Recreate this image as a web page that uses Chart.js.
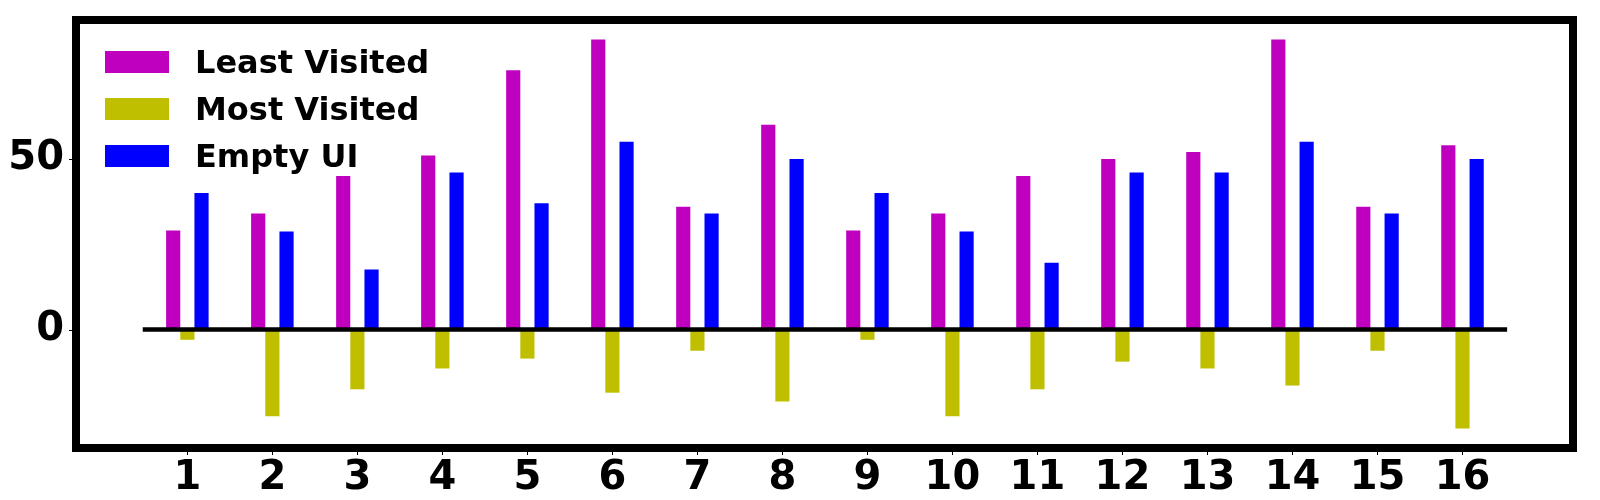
<!DOCTYPE html>
<html>
<head>
<meta charset="utf-8">
<script src="https://cdn.jsdelivr.net/npm/chart.js@4.4.1/dist/chart.umd.min.js"></script>
<style>
  html, body { margin: 0; padding: 0; background: #fff; }
  #wrap { width: 1600px; height: 500px; position: relative; }
</style>
</head>
<body>
<div id="wrap"><canvas id="chart"></canvas></div>
<script>
const categories = [1, 2, 3, 4, 5, 6, 7, 8, 9, 10, 11, 12, 13, 14, 15, 16];
const leastVisited = [29, 34, 45, 51, 76, 85, 36, 60, 29, 34, 45, 50, 52, 85, 36, 54];
const mostVisited = [-3, -25.4, -17.5, -11.4, -8.5, -18.5, -6.2, -21.1, -3, -25.4, -17.5, -9.4, -11.4, -16.4, -6.2, -29];
const emptyUI = [40, 28.7, 17.6, 46, 37, 55, 34, 50, 40, 28.7, 19.6, 46, 46, 55, 34, 50];
const yTicks = [0, 50];
const seriesNames = ['Least Visited', 'Most Visited', 'Empty UI'];
const seriesColors = ['#bf00bf', '#bfbf00', '#0000ff'];

const FONT = "'DejaVu Sans', sans-serif";

// y range like matplotlib's 5% auto margins
const allVals = leastVisited.concat(mostVisited, emptyUI);
const yMax = Math.max(...allVals);
const yMin = Math.min(...allVals);
const ySpan = yMax - yMin;

const toPoints = (vals) => vals.map((v, i) => ({ x: categories[i], y: v }));

// frame, zero line, tick marks and legend drawn on top
const decorations = {
  id: 'decorations',
  afterDatasetsDraw(chart) {
    const { ctx, chartArea, scales } = chart;
    const x = scales.x, y = scales.y;
    ctx.save();

    // zero line
    ctx.strokeStyle = '#000';
    ctx.lineWidth = 4.5;
    ctx.beginPath();
    ctx.moveTo(x.getPixelForValue(categories[0] - 0.525), y.getPixelForValue(0));
    ctx.lineTo(x.getPixelForValue(categories[categories.length - 1] + 0.525), y.getPixelForValue(0));
    ctx.stroke();

    // tick marks
    ctx.lineWidth = 1;
    categories.forEach(c => {
      const px = Math.round(x.getPixelForValue(c)) + 0.5;
      ctx.beginPath();
      ctx.moveTo(px, chartArea.bottom);
      ctx.lineTo(px, chartArea.bottom + 7);
      ctx.stroke();
    });
    yTicks.forEach(v => {
      const py = Math.round(y.getPixelForValue(v)) + 0.5;
      ctx.beginPath();
      ctx.moveTo(chartArea.left, py);
      ctx.lineTo(chartArea.left - 7, py);
      ctx.stroke();
    });

    // frame
    ctx.lineWidth = 8;
    ctx.strokeRect(chartArea.left, chartArea.top, chartArea.right - chartArea.left, chartArea.bottom - chartArea.top);

    // legend
    ctx.font = 'bold 32px ' + FONT;
    ctx.textBaseline = 'alphabetic';
    ctx.textAlign = 'left';
    chart.data.datasets.forEach((ds, i) => {
      const bx = chartArea.left + 29;
      const by = chartArea.top + 31 + i * 47;
      ctx.fillStyle = ds.backgroundColor;
      ctx.fillRect(bx, by, 64, 22);
      ctx.fillStyle = '#000';
      ctx.fillText(ds.label, bx + 90, by + 22);
    });

    ctx.restore();
  }
};

new Chart(document.getElementById('chart'), {
  type: 'bar',
  data: {
    datasets: [
      { label: seriesNames[0], data: toPoints(leastVisited), backgroundColor: seriesColors[0] },
      { label: seriesNames[1], data: toPoints(mostVisited), backgroundColor: seriesColors[1] },
      { label: seriesNames[2], data: toPoints(emptyUI), backgroundColor: seriesColors[2] },
    ],
  },
  options: {
    responsive: true,
    maintainAspectRatio: false,
    animation: false,
    categoryPercentage: 0.5,
    barPercentage: 1.0,
    layout: {
      padding: { top: 20, right: 27, left: 0, bottom: 0 },
    },
    plugins: {
      legend: { display: false },
      tooltip: { enabled: false },
    },
    scales: {
      x: {
        type: 'linear',
        offset: false,
        min: -0.31,
        max: 17.3,
        grid: { display: false, drawTicks: false },
        border: { display: false },
        afterBuildTicks: (scale) => {
          scale.ticks = categories.map(v => ({ value: v }));
        },
        afterFit: (scale) => {
          scale.height = 52;
          scale.paddingLeft = 0;
          scale.paddingRight = 0;
        },
        ticks: {
          autoSkip: false,
          maxRotation: 0,
          padding: 7,
          color: '#000',
          font: { family: FONT, size: 40, weight: 'bold' },
          callback: (v) => String(v),
        },
      },
      y: {
        min: yMin - 0.05 * ySpan,
        max: yMax + 0.05 * ySpan,
        grid: { display: false, drawTicks: false },
        border: { display: false },
        afterBuildTicks: (scale) => {
          scale.ticks = yTicks.map(v => ({ value: v }));
        },
        afterFit: (scale) => {
          scale.width = 76;
          scale.paddingTop = 0;
          scale.paddingBottom = 0;
        },
        ticks: {
          padding: 12,
          color: '#000',
          font: { family: FONT, size: 40, weight: 'bold' },
          callback: (v) => String(v),
        },
      },
    },
  },
  plugins: [decorations],
});
</script>
</body>
</html>
